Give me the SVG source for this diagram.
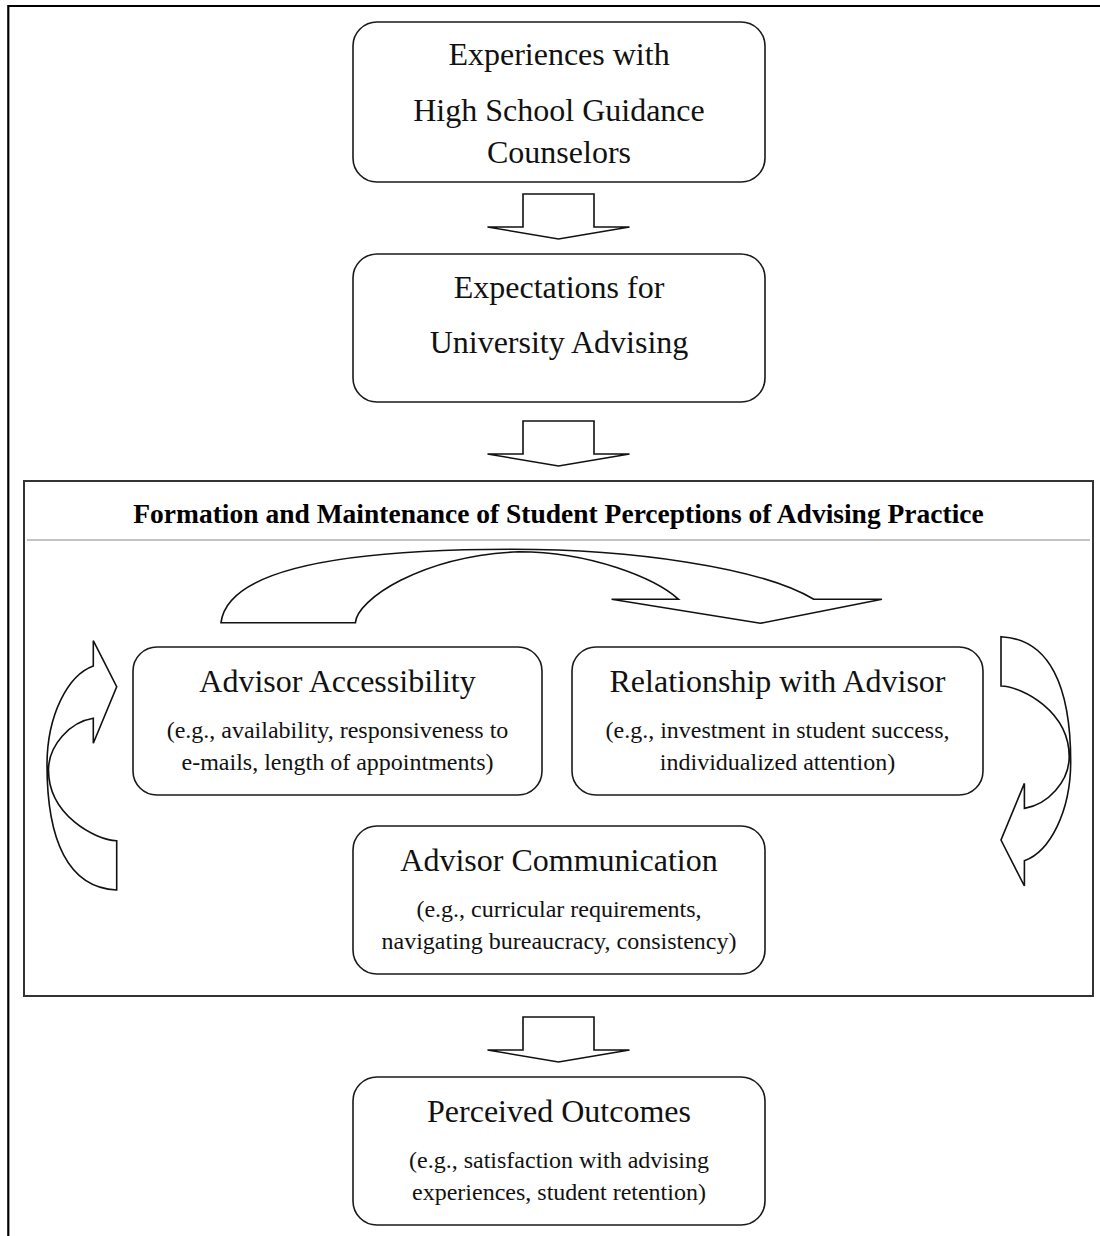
<svg xmlns="http://www.w3.org/2000/svg" width="1100" height="1236" viewBox="0 0 1100 1236">
<style>
.bg{fill:#fff}
.frame{stroke:#000;stroke-width:2.2;fill:none}
.box{fill:#fff;stroke:#1a1a1a;stroke-width:1.6}
.big{fill:#fff;stroke:#333;stroke-width:2}
.sep{stroke:#888;stroke-width:1.2}
.arr{fill:none;stroke:#111;stroke-width:1.6;stroke-linejoin:miter}
.t{font-family:"Liberation Serif","Times New Roman",serif;font-size:32px;fill:#111;text-anchor:middle}
.s{font-family:"Liberation Serif","Times New Roman",serif;font-size:24px;fill:#111;text-anchor:middle}
.h{font-family:"Liberation Serif","Times New Roman",serif;font-size:27.5px;font-weight:bold;fill:#000;text-anchor:middle}
</style>
<defs>
<path id="blockDown" d="M-35.5,0 L35.5,0 L35.5,33 L71,33 L0,45 L-71,33 L-35.5,33 Z"/>
<path id="curveL" d="M116.7,890 C68,888 47,840 47,765 C47,715 68,675 93.3,666 L93.3,640.7 L116.7,686.7 L93.3,743.3 L93.3,718.3 C70,722 48.5,745 48.5,770 C48.5,815 95,840 116.7,840.7 Z"/>
</defs>
<rect class="bg" x="0" y="0" width="1100" height="1236"/>
<g id="frame">
<line class="frame" x1="8.3" y1="6" x2="1100" y2="6"/>
<line class="frame" x1="8.3" y1="5" x2="8.3" y2="1236"/>
</g>
<g id="practice-panel">
<rect class="big" x="24" y="481" width="1069" height="515"/>
<line class="sep" x1="27" y1="540" x2="1090" y2="540"/>
<text class="h" x="558.5" y="523">Formation and Maintenance of Student Perceptions of Advising Practice</text>
</g>
<g id="experiences">
<rect class="box" x="353" y="22" width="412" height="160" rx="24"/>
<text class="t" x="559" y="65">Experiences with</text>
<text class="t" x="559" y="121">High School Guidance</text>
<text class="t" x="559" y="163">Counselors</text>
</g>
<g id="expectations">
<rect class="box" x="353" y="254" width="412" height="148" rx="24"/>
<text class="t" x="559" y="298">Expectations for</text>
<text class="t" x="559" y="353">University Advising</text>
</g>
<g id="accessibility">
<rect class="box" x="133" y="647" width="409" height="148" rx="24"/>
<text class="t" x="337.5" y="692">Advisor Accessibility</text>
<text class="s" x="337.5" y="738">(e.g., availability, responsiveness to</text>
<text class="s" x="337.5" y="770">e-mails, length of appointments)</text>
</g>
<g id="relationship">
<rect class="box" x="572" y="647" width="411" height="148" rx="24"/>
<text class="t" x="777.5" y="692">Relationship with Advisor</text>
<text class="s" x="777.5" y="738">(e.g., investment in student success,</text>
<text class="s" x="777.5" y="770">individualized attention)</text>
</g>
<g id="communication">
<rect class="box" x="353" y="826" width="412" height="148" rx="24"/>
<text class="t" x="559" y="871">Advisor Communication</text>
<text class="s" x="559" y="917">(e.g., curricular requirements,</text>
<text class="s" x="559" y="949">navigating bureaucracy, consistency)</text>
</g>
<g id="outcomes">
<rect class="box" x="353" y="1077" width="412" height="148" rx="24"/>
<text class="t" x="559" y="1122">Perceived Outcomes</text>
<text class="s" x="559" y="1168">(e.g., satisfaction with advising</text>
<text class="s" x="559" y="1200">experiences, student retention)</text>
</g>
<g id="connectors">
<use href="#blockDown" class="arr" x="558.5" y="194"/>
<use href="#blockDown" class="arr" x="558.5" y="421"/>
<use href="#blockDown" class="arr" x="558.5" y="1017"/>
<path class="arr" d="M221,622.7 C228,565 360,549.3 512.5,549.3 C630,549.3 760,567 813.8,599.3 L882,599.3 L760.3,623.3 L611.6,599.3 L678.6,599.3 C655,578 590,551.7 519,551.7 C420,556 357,600 355.4,622.7 Z"/>
<use href="#curveL" class="arr"/>
<use href="#curveL" class="arr" transform="rotate(180 558.85 763.35)"/>
</g>
</svg>
